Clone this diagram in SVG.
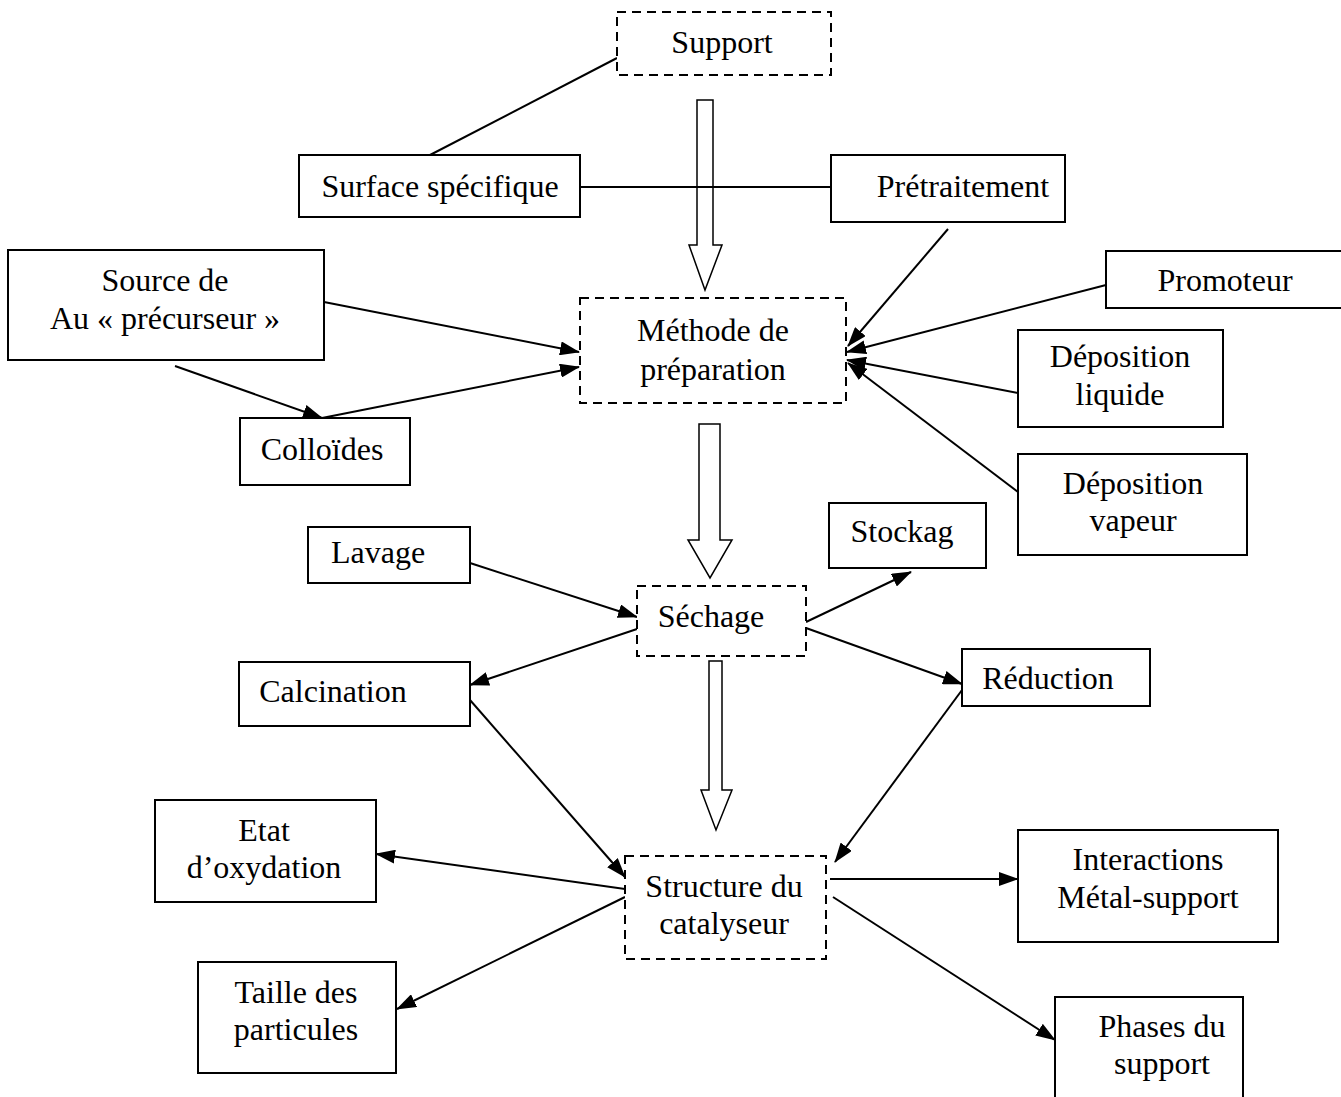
<svg xmlns="http://www.w3.org/2000/svg" width="1341" height="1097" viewBox="0 0 1341 1097">
<style>
.box{fill:#fff;stroke:#000;stroke-width:2}
.dash{fill:#fff;stroke:#000;stroke-width:2;stroke-dasharray:9 6}
text{font-family:"Liberation Serif","Times New Roman",serif;font-size:32px;fill:#000;text-anchor:middle}
.c{stroke:#000;stroke-width:2;fill:none}
.a{marker-end:url(#ah)}
.hollow{fill:#fff;stroke:#000;stroke-width:1.5}
</style>
<defs>
<marker id="ah" viewBox="0 0 20 14" refX="19" refY="7" markerWidth="20" markerHeight="14" markerUnits="userSpaceOnUse" orient="auto">
<path d="M0,0 L20,7 L0,14 z" fill="#000"/>
</marker>
</defs>
<g id="hollow-arrows">
<path class="hollow" d="M697,100 H713 V245 H722 L705,290 L689,245 H697 Z"/>
<path class="hollow" d="M699,424 H720 V540 H732 L710,578 L688,540 H699 Z"/>
<path class="hollow" d="M709,661 H722 V790 H732 L716,830 L701,790 H709 Z"/>
</g>
<g id="connectors">
<line class="c" x1="430" y1="155" x2="617" y2="58"/>
<line class="c" x1="580" y1="187" x2="831" y2="187"/>
<line class="c a" x1="324" y1="302" x2="579" y2="352"/>
<line class="c a" x1="175" y1="366" x2="322" y2="418"/>
<line class="c a" x1="322" y1="418" x2="579" y2="367"/>
<line class="c a" x1="948" y1="229" x2="848" y2="346"/>
<line class="c a" x1="1106" y1="285" x2="847" y2="352"/>
<line class="c a" x1="1018" y1="393" x2="847" y2="360"/>
<line class="c a" x1="1018" y1="492" x2="848" y2="363"/>
<line class="c a" x1="470" y1="563" x2="637" y2="617"/>
<line class="c a" x1="806" y1="622" x2="911" y2="572"/>
<line class="c a" x1="637" y1="629" x2="470" y2="685"/>
<line class="c a" x1="806" y1="628" x2="962" y2="684"/>
<line class="c a" x1="470" y1="700" x2="625" y2="877"/>
<line class="c a" x1="962" y1="690" x2="835" y2="862"/>
<line class="c a" x1="625" y1="889" x2="376" y2="854"/>
<line class="c a" x1="625" y1="897" x2="397" y2="1009"/>
<line class="c a" x1="830" y1="879" x2="1018" y2="879"/>
<line class="c a" x1="833" y1="897" x2="1055" y2="1040"/>
</g>
<g id="support"><rect class="dash" x="617" y="12" width="214" height="63"/><text x="722" y="53">Support</text></g>
<g id="surface"><rect class="box" x="299" y="155" width="281" height="62"/><text x="440" y="197">Surface spécifique</text></g>
<g id="pretraitement"><rect class="box" x="831" y="155" width="234" height="67"/><text x="963" y="197">Prétraitement</text></g>
<g id="source"><rect class="box" x="8" y="250" width="316" height="110"/><text x="165" y="291">Source de</text><text x="165" y="329">Au « précurseur »</text></g>
<g id="methode"><rect class="dash" x="580" y="298" width="266" height="105"/><text x="713" y="341">Méthode de</text><text x="713" y="380">préparation</text></g>
<g id="colloides"><rect class="box" x="240" y="418" width="170" height="67"/><text x="322" y="460">Colloïdes</text></g>
<g id="promoteur"><rect class="box" x="1106" y="251" width="240" height="57"/><text x="1225" y="291">Promoteur</text></g>
<g id="dep-liquide"><rect class="box" x="1018" y="330" width="205" height="97"/><text x="1120" y="367">Déposition</text><text x="1120" y="405">liquide</text></g>
<g id="dep-vapeur"><rect class="box" x="1018" y="454" width="229" height="101"/><text x="1133" y="494">Déposition</text><text x="1133" y="531">vapeur</text></g>
<g id="lavage"><rect class="box" x="308" y="527" width="162" height="56"/><text x="378" y="563">Lavage</text></g>
<g id="sechage"><rect class="dash" x="637" y="586" width="169" height="70"/><text x="711" y="627">Séchage</text></g>
<g id="stockag"><rect class="box" x="829" y="503" width="157" height="65"/><text x="902" y="542">Stockag</text></g>
<g id="calcination"><rect class="box" x="239" y="662" width="231" height="64"/><text x="333" y="702">Calcination</text></g>
<g id="reduction"><rect class="box" x="962" y="649" width="188" height="57"/><text x="1048" y="689">Réduction</text></g>
<g id="structure"><rect class="dash" x="625" y="856" width="201" height="103"/><text x="724" y="897">Structure du</text><text x="724" y="934">catalyseur</text></g>
<g id="etat"><rect class="box" x="155" y="800" width="221" height="102"/><text x="264" y="841">Etat</text><text x="264" y="878">d’oxydation</text></g>
<g id="taille"><rect class="box" x="198" y="962" width="198" height="111"/><text x="296" y="1003">Taille des</text><text x="296" y="1040">particules</text></g>
<g id="interactions"><rect class="box" x="1018" y="830" width="260" height="112"/><text x="1148" y="870">Interactions</text><text x="1148" y="908">Métal-support</text></g>
<g id="phases"><rect class="box" x="1055" y="997" width="188" height="110"/><text x="1162" y="1037">Phases du</text><text x="1162" y="1074">support</text></g>
</svg>
